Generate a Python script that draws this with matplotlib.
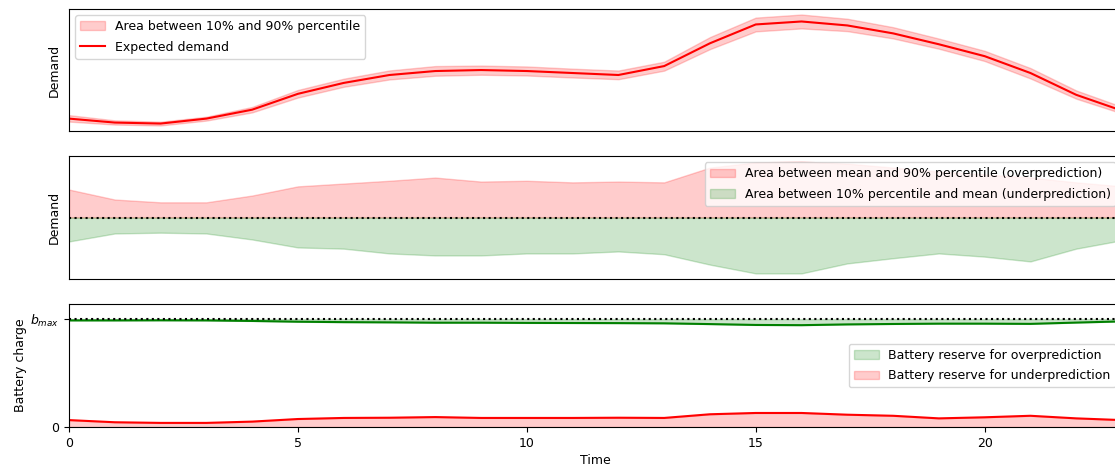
"""Demand forecast band, forecast error split and battery reserve over one day."""
import matplotlib

matplotlib.use("Agg")
import matplotlib.pyplot as plt
import numpy as np

hours = np.arange(24)

# expected demand (kW) and distance of the 90% / 10% quantiles from it
expected_demand = [2.16, 2.08, 2.06, 2.16, 2.34, 2.66, 2.88, 3.04, 3.12, 3.14, 3.12, 3.08,
                   3.04, 3.22, 3.68, 4.06, 4.12, 4.04, 3.88, 3.66, 3.42, 3.08, 2.64, 2.32]
dev_over = [0.070, 0.045, 0.038, 0.038, 0.055, 0.078, 0.085, 0.092, 0.100, 0.090, 0.092, 0.088,
            0.090, 0.088, 0.125, 0.138, 0.140, 0.135, 0.125, 0.115, 0.108, 0.100, 0.088, 0.078]
dev_under = [0.060, 0.040, 0.038, 0.040, 0.055, 0.075, 0.078, 0.090, 0.095, 0.095, 0.090, 0.090,
             0.085, 0.092, 0.118, 0.140, 0.140, 0.115, 0.102, 0.090, 0.098, 0.110, 0.078, 0.057]

# battery capacity and reserves (kWh)
b_max = 5.0
reserve_over = [0.06, 0.06, 0.055, 0.06, 0.085, 0.12, 0.14, 0.15, 0.165, 0.165, 0.175, 0.18,
                0.185, 0.195, 0.23, 0.27, 0.28, 0.245, 0.225, 0.21, 0.21, 0.22, 0.16, 0.105]
reserve_under = [0.32, 0.22, 0.19, 0.19, 0.25, 0.37, 0.42, 0.43, 0.46, 0.42, 0.42, 0.42,
                 0.43, 0.42, 0.59, 0.65, 0.65, 0.57, 0.52, 0.40, 0.45, 0.52, 0.40, 0.32]

plt.rcParams["font.size"] = 9
plt.rcParams["legend.labelspacing"] = 0.6


def plot_demand(ax, mean, over, under):
    ax.fill_between(hours, mean - under, mean + over, color="red", alpha=0.2,
                    label="Area between 10% and 90% percentile")
    ax.plot(hours, mean, color="red", label="Expected demand")
    ax.set_ylabel("Demand", labelpad=6)
    ax.set_yticks([])
    ax.legend(loc="upper left")


def plot_errors(ax, over, under):
    ax.fill_between(hours, 0, over, color="red", alpha=0.2,
                    label="Area between mean and 90% percentile (overprediction)")
    ax.fill_between(hours, -under, 0, color="green", alpha=0.2,
                    label="Area between 10% percentile and mean (underprediction)")
    ax.axhline(0, color="black", linestyle=":")
    lim = 1.1 * max(over.max(), under.max())
    ax.set_ylim(-lim, lim)
    ax.set_ylabel("Demand", labelpad=6)
    ax.set_yticks([])
    ax.legend(loc="upper right")


def plot_battery(ax, r_over, r_under):
    ax.fill_between(hours, b_max - r_over, b_max, color="green", alpha=0.2,
                    label="Battery reserve for overprediction")
    ax.plot(hours, b_max - r_over, color="green")
    ax.fill_between(hours, 0, r_under, color="red", alpha=0.2,
                    label="Battery reserve for underprediction")
    ax.plot(hours, r_under, color="red")
    ax.axhline(b_max, color="black", linestyle=":")
    ax.set_ylim(0, 1.14 * b_max)
    ax.set_yticks([0, b_max])
    ax.set_yticklabels(["0", "$b_{max}$"])
    ax.set_ylabel("Battery charge", labelpad=2)
    ax.set_xlabel("Time", labelpad=3)
    ax.legend(loc="center right")


def main():
    mean = np.array(expected_demand)
    over = np.array(dev_over)
    under = np.array(dev_under)

    fig, (ax1, ax2, ax3) = plt.subplots(3, 1, figsize=(11.15, 4.66), dpi=100)
    left, width = 69 / 1115, 1053 / 1115
    ax1.set_position([left, 0.7189, width, 0.2618])
    ax2.set_position([left, 0.4013, width, 0.2639])
    ax3.set_position([left, 0.0837, width, 0.2639])

    plot_demand(ax1, mean, over, under)
    plot_errors(ax2, over, under)
    plot_battery(ax3, np.array(reserve_over), np.array(reserve_under))

    for ax in (ax1, ax2, ax3):
        ax.set_xlim(0, 23)
    ax1.set_xticks([])
    ax2.set_xticks([])

    fig.savefig("out.png", dpi=100)
    plt.close(fig)


if __name__ == "__main__":
    main()
